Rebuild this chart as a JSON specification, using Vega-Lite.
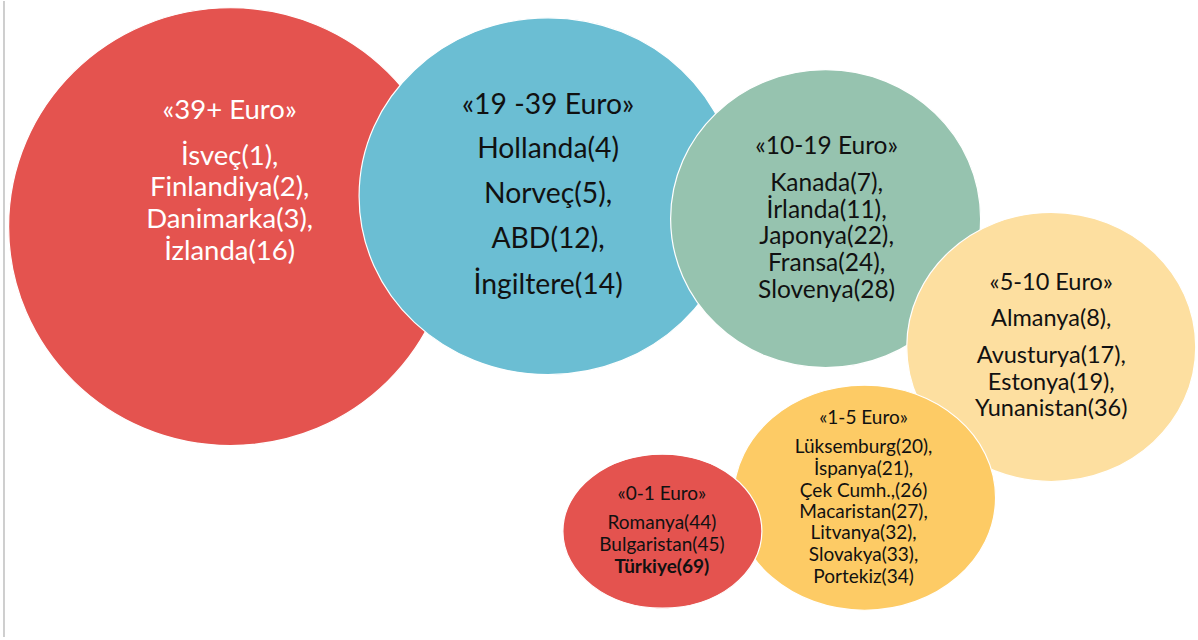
{
  "$schema": "https://vega.github.io/schema/vega-lite/v6.json",
  "width": 1198,
  "height": 640,
  "autosize": {"type": "fit", "contains": "padding"},
  "padding": 0,
  "background": "white",
  "config": {"view": {"stroke": null}},
  "datasets": {
    "bubbles": [
      {"group": "39+", "cx": 231, "cy": 226, "r": 222, "rank": 1},
      {"group": "19-39", "cx": 549, "cy": 195.5, "r": 189, "rank": 2},
      {"group": "10-19", "cx": 827, "cy": 218, "r": 155, "rank": 3},
      {"group": "5-10", "cx": 1053, "cy": 346.5, "r": 144.5, "rank": 4},
      {"group": "1-5", "cx": 866, "cy": 497.5, "r": 131, "rank": 5},
      {"group": "0-1", "cx": 663.5, "cy": 531, "r": 99.5, "rank": 6}
    ],
    "lines": [
      {"group": "39+", "text": "«39+ Euro»", "x": 230, "y": 110},
      {"group": "39+", "text": "İsveç(1),", "x": 230, "y": 156},
      {"group": "39+", "text": "Finlandiya(2),", "x": 230, "y": 187},
      {"group": "39+", "text": "Danimarka(3),", "x": 230, "y": 219},
      {"group": "39+", "text": "İzlanda(16)", "x": 230, "y": 251},
      {"group": "19-39", "text": "«19 -39 Euro»", "x": 549, "y": 105},
      {"group": "19-39", "text": "Hollanda(4)", "x": 549, "y": 149.5},
      {"group": "19-39", "text": "Norveç(5),", "x": 549, "y": 194.5},
      {"group": "19-39", "text": "ABD(12),", "x": 549, "y": 239},
      {"group": "19-39", "text": "İngiltere(14)", "x": 549, "y": 285},
      {"group": "10-19", "text": "«10-19 Euro»", "x": 828, "y": 146.7},
      {"group": "10-19", "text": "Kanada(7),", "x": 828, "y": 183.7},
      {"group": "10-19", "text": "İrlanda(11),", "x": 828, "y": 210.3},
      {"group": "10-19", "text": "Japonya(22),", "x": 828, "y": 236.7},
      {"group": "10-19", "text": "Fransa(24),", "x": 828, "y": 263},
      {"group": "10-19", "text": "Slovenya(28)", "x": 828, "y": 290.7},
      {"group": "5-10", "text": "«5-10 Euro»", "x": 1053, "y": 282},
      {"group": "5-10", "text": "Almanya(8),", "x": 1053, "y": 318.8},
      {"group": "5-10", "text": "Avusturya(17),", "x": 1053, "y": 355.8},
      {"group": "5-10", "text": "Estonya(19),", "x": 1053, "y": 382.8},
      {"group": "5-10", "text": "Yunanistan(36)", "x": 1053, "y": 409},
      {"group": "1-5", "text": "«1-5 Euro»", "x": 865, "y": 417.5},
      {"group": "1-5", "text": "Lüksemburg(20),", "x": 865, "y": 446.7},
      {"group": "1-5", "text": "İspanya(21),", "x": 865, "y": 468.3},
      {"group": "1-5", "text": "Çek Cumh.,(26)", "x": 865, "y": 490.8},
      {"group": "1-5", "text": "Macaristan(27),", "x": 865, "y": 511.3},
      {"group": "1-5", "text": "Litvanya(32),", "x": 865, "y": 533.3},
      {"group": "1-5", "text": "Slovakya(33),", "x": 865, "y": 555},
      {"group": "1-5", "text": "Portekiz(34)", "x": 865, "y": 576.7},
      {"group": "0-1", "text": "«0-1 Euro»", "x": 663, "y": 493.7},
      {"group": "0-1", "text": "Romanya(44)", "x": 663, "y": 523.3},
      {"group": "0-1", "text": "Bulgaristan(45)", "x": 663, "y": 545},
      {"group": "0-1", "text": "Türkiye(69)", "x": 663, "y": 566.7}
    ]
  },
  "layer": [
    {
      "data": {"values": [{"x": 4, "y": 0, "y2": 637}]},
      "mark": {"type": "rule", "color": "#BFBFBF", "strokeWidth": 1.5},
      "encoding": {
        "x": {"field": "x", "type": "quantitative", "scale": {"domain": [0, 1198], "nice": false, "zero": false}, "axis": null},
        "y": {"field": "y", "type": "quantitative", "scale": {"domain": [0, 640], "nice": false, "zero": false, "reverse": true}, "axis": null},
        "y2": {"field": "y2"}
      }
    },
    {
      "data": {"name": "bubbles"},
      "mark": {"type": "point", "filled": true, "opacity": 1, "stroke": "white", "strokeWidth": 1.2},
      "encoding": {
        "x": {"field": "cx", "type": "quantitative", "scale": {"domain": [0, 1198], "nice": false, "zero": false}, "axis": null},
        "y": {"field": "cy", "type": "quantitative", "scale": {"domain": [0, 640], "nice": false, "zero": false, "reverse": true}, "axis": null},
        "size": {"field": "r", "type": "quantitative", "scale": {"type": "pow", "exponent": 2, "domain": [0, 100], "range": [0, 40000]}, "legend": null},
        "shape": {"field": "group", "type": "nominal", "legend": null,
          "scale": {"domain": ["39+", "19-39", "10-19", "5-10", "1-5", "0-1"],
            "range": [
              "M -1 0 A 1 0.986 0 1 1 1 0 A 1 0.986 0 1 1 -1 0 Z",
              "M -1 0 A 1 0.944 0 1 1 1 0 A 1 0.944 0 1 1 -1 0 Z",
              "M -1 0 A 1 0.961 0 1 1 1 0 A 1 0.961 0 1 1 -1 0 Z",
              "M -1 0 A 1 0.931 0 1 1 1 0 A 1 0.931 0 1 1 -1 0 Z",
              "M -1 0 A 1 0.859 0 1 1 1 0 A 1 0.859 0 1 1 -1 0 Z",
              "M -1 0 A 1 0.774 0 1 1 1 0 A 1 0.774 0 1 1 -1 0 Z"
            ]}},
        "color": {"field": "group", "type": "nominal", "legend": null,
          "scale": {"domain": ["39+", "19-39", "10-19", "5-10", "1-5", "0-1"],
            "range": ["#E4534F", "#6BBED3", "#96C3AF", "#FDDFA0", "#FDCB65", "#E4534F"]}},
        "order": {"field": "rank", "type": "quantitative"}
      }
    },
    {
      "data": {"name": "lines"},
      "transform": [{"filter": "datum.group === '39+'"}],
      "mark": {"type": "text", "font": "Lato", "align": "center", "baseline": "middle", "fontSize": 27.5, "color": "white"},
      "encoding": {
        "x": {"field": "x", "type": "quantitative", "scale": {"domain": [0, 1198], "nice": false, "zero": false}, "axis": null},
        "y": {"field": "y", "type": "quantitative", "scale": {"domain": [0, 640], "nice": false, "zero": false, "reverse": true}, "axis": null},
        "text": {"field": "text"}
      }
    },
    {
      "data": {"name": "lines"},
      "transform": [{"filter": "datum.group === '19-39'"}],
      "mark": {"type": "text", "font": "Lato", "align": "center", "baseline": "middle", "fontSize": 28.3, "color": "#111111"},
      "encoding": {
        "x": {"field": "x", "type": "quantitative", "scale": {"domain": [0, 1198], "nice": false, "zero": false}, "axis": null},
        "y": {"field": "y", "type": "quantitative", "scale": {"domain": [0, 640], "nice": false, "zero": false, "reverse": true}, "axis": null},
        "text": {"field": "text"}
      }
    },
    {
      "data": {"name": "lines"},
      "transform": [{"filter": "datum.group === '10-19'"}],
      "mark": {"type": "text", "font": "Lato", "align": "center", "baseline": "middle", "fontSize": 24.5, "color": "#111111"},
      "encoding": {
        "x": {"field": "x", "type": "quantitative", "scale": {"domain": [0, 1198], "nice": false, "zero": false}, "axis": null},
        "y": {"field": "y", "type": "quantitative", "scale": {"domain": [0, 640], "nice": false, "zero": false, "reverse": true}, "axis": null},
        "text": {"field": "text"}
      }
    },
    {
      "data": {"name": "lines"},
      "transform": [{"filter": "datum.group === '5-10'"}],
      "mark": {"type": "text", "font": "Lato", "align": "center", "baseline": "middle", "fontSize": 23.5, "color": "#111111"},
      "encoding": {
        "x": {"field": "x", "type": "quantitative", "scale": {"domain": [0, 1198], "nice": false, "zero": false}, "axis": null},
        "y": {"field": "y", "type": "quantitative", "scale": {"domain": [0, 640], "nice": false, "zero": false, "reverse": true}, "axis": null},
        "text": {"field": "text"}
      }
    },
    {
      "data": {"name": "lines"},
      "transform": [{"filter": "(datum.group === '1-5' || datum.group === '0-1') && datum.text !== 'Türkiye(69)'"}],
      "mark": {"type": "text", "font": "Lato", "align": "center", "baseline": "middle", "fontSize": 19, "color": "#111111"},
      "encoding": {
        "x": {"field": "x", "type": "quantitative", "scale": {"domain": [0, 1198], "nice": false, "zero": false}, "axis": null},
        "y": {"field": "y", "type": "quantitative", "scale": {"domain": [0, 640], "nice": false, "zero": false, "reverse": true}, "axis": null},
        "text": {"field": "text"}
      }
    },
    {
      "data": {"name": "lines"},
      "transform": [{"filter": "datum.text === 'Türkiye(69)'"}],
      "mark": {"type": "text", "font": "Lato", "align": "center", "baseline": "middle", "fontWeight": "bold", "fontSize": 19, "color": "#111111"},
      "encoding": {
        "x": {"field": "x", "type": "quantitative", "scale": {"domain": [0, 1198], "nice": false, "zero": false}, "axis": null},
        "y": {"field": "y", "type": "quantitative", "scale": {"domain": [0, 640], "nice": false, "zero": false, "reverse": true}, "axis": null},
        "text": {"field": "text"}
      }
    }
  ]
}
